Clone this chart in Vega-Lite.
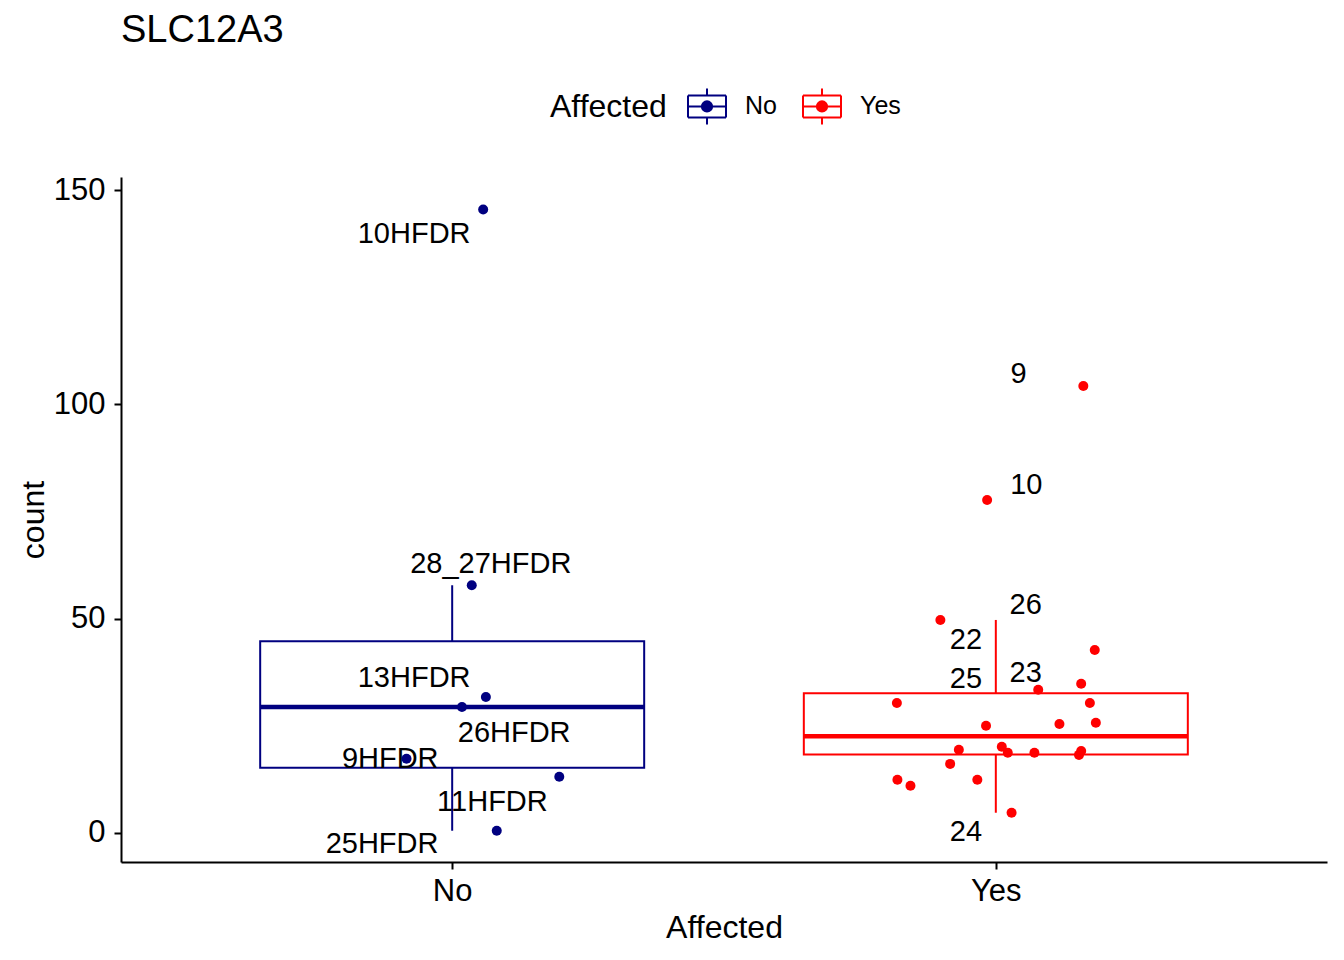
{
  "$schema": "https://vega.github.io/schema/vega-lite/v6.json",
  "width": 1206,
  "height": 685,
  "autosize": "none",
  "padding": {"left": 121, "top": 177, "right": 17, "bottom": 98},
  "background": "white",
  "title": {"text": "SLC12A3", "anchor": "start", "frame": "group", "fontSize": 38, "fontWeight": "normal", "font": "Liberation Sans", "color": "black", "baseline": "alphabetic", "offset": 6},
  "datasets": {
    "pts": [
      {"grp": "No", "jx": 1.057, "count": 145.5},
      {"grp": "No", "jx": 1.036, "count": 57.8},
      {"grp": "No", "jx": 1.062, "count": 31.7},
      {"grp": "No", "jx": 1.018, "count": 29.4},
      {"grp": "No", "jx": 0.916, "count": 17.3},
      {"grp": "No", "jx": 1.197, "count": 13.1},
      {"grp": "No", "jx": 1.082, "count": 0.5},
      {"grp": "Yes", "jx": 2.161, "count": 104.3},
      {"grp": "Yes", "jx": 1.984, "count": 77.7},
      {"grp": "Yes", "jx": 1.898, "count": 49.7},
      {"grp": "Yes", "jx": 2.182, "count": 42.7},
      {"grp": "Yes", "jx": 2.078, "count": 33.4},
      {"grp": "Yes", "jx": 2.157, "count": 34.8},
      {"grp": "Yes", "jx": 1.818, "count": 30.3},
      {"grp": "Yes", "jx": 2.173, "count": 30.3},
      {"grp": "Yes", "jx": 2.117, "count": 25.4},
      {"grp": "Yes", "jx": 2.184, "count": 25.7},
      {"grp": "Yes", "jx": 1.982, "count": 25.0},
      {"grp": "Yes", "jx": 1.932, "count": 19.4},
      {"grp": "Yes", "jx": 2.011, "count": 20.1},
      {"grp": "Yes", "jx": 2.022, "count": 18.7},
      {"grp": "Yes", "jx": 2.071, "count": 18.7},
      {"grp": "Yes", "jx": 2.157, "count": 19.1},
      {"grp": "Yes", "jx": 2.153, "count": 18.2},
      {"grp": "Yes", "jx": 1.916, "count": 16.1},
      {"grp": "Yes", "jx": 1.819, "count": 12.4},
      {"grp": "Yes", "jx": 1.843, "count": 11.0},
      {"grp": "Yes", "jx": 1.966, "count": 12.4},
      {"grp": "Yes", "jx": 2.029, "count": 4.7}
    ],
    "labels": [
      {"grp": "No", "lx": 0.930, "ly": 137.8, "label": "10HFDR"},
      {"grp": "No", "lx": 1.071, "ly": 60.6, "label": "28_27HFDR"},
      {"grp": "No", "lx": 0.930, "ly": 34.1, "label": "13HFDR"},
      {"grp": "No", "lx": 1.114, "ly": 21.3, "label": "26HFDR"},
      {"grp": "No", "lx": 0.886, "ly": 15.2, "label": "9HFDR"},
      {"grp": "No", "lx": 1.074, "ly": 5.1, "label": "11HFDR"},
      {"grp": "No", "lx": 0.871, "ly": -4.7, "label": "25HFDR"},
      {"grp": "Yes", "lx": 2.042, "ly": 104.9, "label": "9"},
      {"grp": "Yes", "lx": 2.056, "ly": 79.0, "label": "10"},
      {"grp": "Yes", "lx": 2.055, "ly": 51.2, "label": "26"},
      {"grp": "Yes", "lx": 1.945, "ly": 43.0, "label": "22"},
      {"grp": "Yes", "lx": 1.945, "ly": 33.9, "label": "25"},
      {"grp": "Yes", "lx": 2.055, "ly": 35.3, "label": "23"},
      {"grp": "Yes", "lx": 1.945, "ly": -2.0, "label": "24"}
    ],
    "box": [
      {"grp": "No", "gx": 1, "lower": 0.5, "q1": 15.2, "median": 29.4, "q3": 44.75, "upper": 57.8},
      {"grp": "Yes", "gx": 2, "lower": 4.7, "q1": 18.3, "median": 22.55, "q3": 32.6, "upper": 49.7}
    ]
  },
  "encoding": {
    "color": {"field": "grp", "type": "nominal", "title": "Affected",
      "scale": {"domain": ["No", "Yes"], "range": ["#000080", "#ff0000"]}}
  },
  "layer": [
    {
      "data": {"name": "box"},
      "mark": {"type": "rule", "strokeWidth": 2},
      "encoding": {
        "x": {"field": "gx", "type": "quantitative"},
        "y": {"field": "lower", "type": "quantitative"},
        "y2": {"field": "q1"}
      }
    },
    {
      "data": {"name": "box"},
      "mark": {"type": "rule", "strokeWidth": 2},
      "encoding": {
        "x": {"field": "gx", "type": "quantitative"},
        "y": {"field": "q3", "type": "quantitative"},
        "y2": {"field": "upper"}
      }
    },
    {
      "data": {"name": "box"},
      "mark": {"type": "bar", "orient": "vertical", "width": 384, "filled": false, "strokeWidth": 2},
      "encoding": {
        "x": {"field": "gx", "type": "quantitative"},
        "y": {"field": "q1", "type": "quantitative"},
        "y2": {"field": "q3"}
      }
    },
    {
      "data": {"name": "box"},
      "mark": {"type": "tick", "orient": "horizontal", "size": 384, "thickness": 4.5, "opacity": 1},
      "encoding": {
        "x": {"field": "gx", "type": "quantitative"},
        "y": {"field": "median", "type": "quantitative"}
      }
    },
    {
      "data": {"name": "pts"},
      "mark": {"type": "point", "filled": true, "size": 100, "opacity": 1, "strokeWidth": 0},
      "encoding": {
        "x": {"field": "jx", "type": "quantitative",
          "scale": {"domain": [0.4, 2.6], "nice": false, "zero": false},
          "axis": {"values": [1, 2], "labelExpr": "datum.value == 1 ? 'No' : 'Yes'", "labelBaseline": "alphabetic", "labelPadding": 31, "labelFlush": false, "title": "Affected", "titleBaseline": "alphabetic", "titleY": 75}},
        "y": {"field": "count", "type": "quantitative",
          "scale": {"domain": [-6.8, 153.1], "nice": false, "zero": false},
          "axis": {"values": [0, 50, 100, 150], "labelPadding": 9, "title": "count", "titleBaseline": "alphabetic", "titleX": -78}},
        "color": {"field": "grp", "type": "nominal", "title": "Affected",
          "legend": {
            "orient": "none", "direction": "horizontal", "legendX": 429, "legendY": -91,
            "titleOrient": "left", "titleAnchor": "middle",
            "symbolType": "M-1,-0.58H1M1,-0.58V0.58M1,0.58H-1M-1,0.58V-0.58M-1,0H1M0,-0.58V-0.95M0,0.58V0.95M0.27,0A0.27,0.27 0 1,1 -0.27,0A0.27,0.27 0 1,1 0.27,0Z",
            "symbolSize": 1444, "symbolStrokeWidth": 2, "symbolOpacity": 1,
            "encode": {"symbols": {"update": {
              "fill": {"scale": "color", "field": "value"},
              "stroke": {"scale": "color", "field": "value"},
              "strokeWidth": {"value": 2}
            }}}
          }}
      }
    },
    {
      "data": {"name": "labels"},
      "mark": {"type": "text", "font": "Liberation Sans", "fontSize": 29, "align": "center", "baseline": "alphabetic", "color": "black"},
      "encoding": {
        "x": {"field": "lx", "type": "quantitative"},
        "y": {"field": "ly", "type": "quantitative"},
        "text": {"field": "label"},
        "color": {"value": "black"}
      }
    }
  ],
  "config": {
    "view": {"stroke": null},
    "font": "Liberation Sans",
    "axis": {
      "grid": false, "domainColor": "black", "domainWidth": 2, "tickColor": "black", "tickWidth": 2, "tickSize": 7,
      "labelFont": "Liberation Sans", "labelFontSize": 31, "labelColor": "black",
      "titleFont": "Liberation Sans", "titleFontSize": 32, "titleFontWeight": "normal", "titleColor": "black"
    },
    "legend": {
      "titleFont": "Liberation Sans", "titleFontSize": 32, "titleFontWeight": "normal", "titleColor": "black", "titlePadding": 20,
      "labelFont": "Liberation Sans", "labelFontSize": 25, "labelColor": "black", "labelOffset": 18, "columnPadding": 22
    }
  }
}
